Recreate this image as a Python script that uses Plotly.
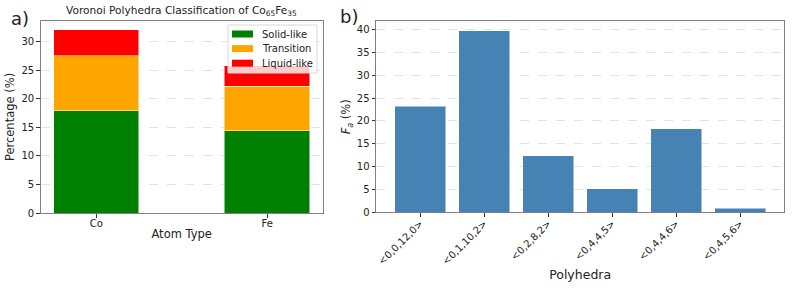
import plotly.graph_objects as go

atoms = ["Co", "Fe"]
solid = [17.9, 14.4]
transition = [9.6, 7.8]
liquid = [4.5, 3.5]
class_names = ["Solid-like", "Transition", "Liquid-like"]
class_colors = ["green", "orange", "red"]

polyhedra = ["<0,0,12,0>", "<0,1,10,2>", "<0,2,8,2>", "<0,4,4,5>", "<0,4,4,6>", "<0,4,5,6>"]
fa = [23.2, 39.7, 12.4, 5.2, 18.3, 0.9]

FONT = "DejaVu Sans"
W, H = 793, 288

fig = go.Figure()
edge = dict(color="rgba(255,255,255,0.5)", width=1)
for vals, nm, col in zip([solid, transition, liquid], class_names, class_colors):
    fig.add_trace(go.Bar(x=[0, 1], y=vals, name=nm, marker=dict(color=col, line=edge),
                         width=0.5, xaxis="x", yaxis="y", showlegend=False))
fig.add_trace(go.Bar(x=list(range(len(polyhedra))), y=fa, showlegend=False,
                     marker=dict(color="#4682B4", line=edge), width=0.8, xaxis="x2", yaxis="y2"))

axcommon = dict(showline=True, linecolor="#808080", linewidth=1, mirror=True, automargin=False,
                ticks="outside", ticklen=3.5, tickcolor="#333", tickfont=dict(size=10, color="#222"))
gridcommon = dict(showgrid=True, gridcolor="#e3e3e3", griddash="dash", gridwidth=1, zeroline=False)

# manual legend (matplotlib style) in paper coordinates
lx0, lx1, ly0, ly1 = 228, 317, 25, 73
shapes = [dict(type="rect", xref="paper", yref="paper", x0=lx0 / W, x1=lx1 / W, y0=1 - ly1 / H, y1=1 - ly0 / H,
               fillcolor="rgba(255,255,255,0.8)", line=dict(color="#d8d8d8", width=1), layer="above")]
annotations = []
for i, (nm, col) in enumerate(zip(class_names, class_colors)):
    cy = 34 + i * 14.6
    shapes.append(dict(type="rect", xref="paper", yref="paper", x0=232 / W, x1=253 / W,
                       y0=1 - (cy + 3.5) / H, y1=1 - (cy - 3.5) / H, fillcolor=col, line=dict(width=0),
                       layer="above"))
    annotations.append(dict(text=nm, xref="paper", yref="paper", x=260 / W, y=1 - cy / H, xanchor="left",
                            yanchor="middle", showarrow=False, font=dict(size=10)))

annotations += [
    dict(text="Voronoi Polyhedra Classification of Co<sub>65</sub>Fe<sub>35</sub>", xref="paper", yref="paper",
         x=(40.7 + 322.7) / 2 / W, y=1 - 20 / H, xanchor="center", yanchor="bottom", showarrow=False,
         font=dict(size=10.6)),
    dict(text="a)", xref="paper", yref="paper", x=9 / W, y=1 - 19 / H, xanchor="left", yanchor="middle",
         showarrow=False, font=dict(size=18)),
    dict(text="b)", xref="paper", yref="paper", x=338 / W, y=1 - 16.5 / H, xanchor="left", yanchor="middle",
         showarrow=False, font=dict(size=18)),
]

fig.update_layout(
    width=W, height=H, barmode="stack",
    margin=dict(l=0, r=0, t=0, b=0, autoexpand=False),
    paper_bgcolor="white", plot_bgcolor="white",
    font=dict(family=FONT, size=11, color="#222"),
    showlegend=False,
    xaxis=dict(domain=[40.7 / W, 322.7 / W], range=[-0.325, 1.325], tickvals=[0, 1], ticktext=atoms,
               showgrid=False, zeroline=False, anchor="y", ticklabelstandoff=-3,
               title=dict(text="Atom Type", font=dict(size=11.5), standoff=2), **axcommon),
    yaxis=dict(domain=[1 - 213.3 / H, 1 - 20.7 / H], range=[0, 33.6], dtick=5, anchor="x",
               title=dict(text="Percentage (%)", font=dict(size=11.5), standoff=4), **gridcommon, **axcommon),
    xaxis2=dict(domain=[376 / W, 784.3 / W], range=[-0.69, 5.69], tickvals=list(range(len(polyhedra))),
                ticktext=polyhedra, tickangle=-45, showgrid=False, zeroline=False, anchor="y2",
                ticklabelstandoff=-3,
                title=dict(text="Polyhedra", font=dict(size=12.5), standoff=4), **axcommon),
    yaxis2=dict(domain=[1 - 212.3 / H, 1 - 21.3 / H], range=[0, 41.8], dtick=5, anchor="x2",
                title=dict(text="<i>F<sub>a</sub></i> (%)", font=dict(size=11.5), standoff=3), **gridcommon, **axcommon),
    shapes=shapes,
    annotations=annotations,
)

fig.write_html("out.html", config={"displayModeBar": False},
               post_script="document.body.style.margin='0';document.body.style.overflow='hidden';")
